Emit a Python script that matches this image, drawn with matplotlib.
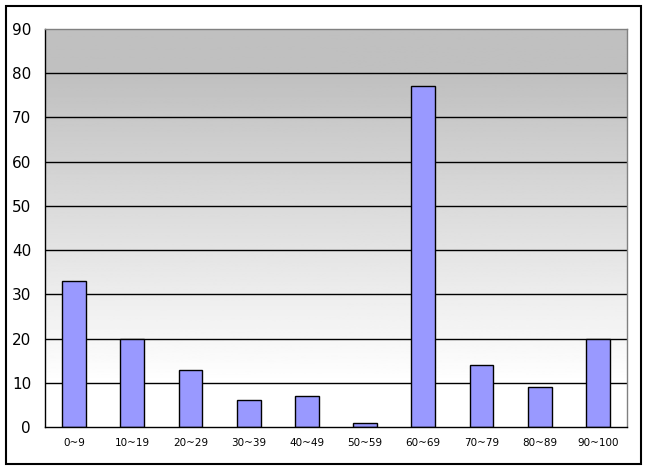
import matplotlib
matplotlib.use("Agg")
import matplotlib.pyplot as plt
import numpy as np
from matplotlib.patches import Rectangle

categories = ['0~9', '10~19', '20~29', '30~39', '40~49',
              '50~59', '60~69', '70~79', '80~89', '90~100']
counts = [33, 20, 13, 6, 7, 1, 77, 14, 9, 20]
y_ticks = [0, 10, 20, 30, 40, 50, 60, 70, 80, 90]

fig = plt.figure(figsize=(6.48, 4.70), dpi=100)
fig.patch.set_facecolor('white')
fig.patches.append(Rectangle((6 / 648, 6 / 470), 635 / 648, 458 / 470,
                             transform=fig.transFigure, fill=False,
                             edgecolor='black', linewidth=1.5))

ax = fig.add_axes([45 / 648, 43 / 470, 582 / 648, 398 / 470])
n = len(categories)
ax.set_xlim(-0.5, n - 0.5)
ax.set_ylim(0, 90)

# gray band on top, fading to white near the bottom
yy = np.linspace(90, 0, 360).reshape(-1, 1)
t = np.clip((yy - 10) / (80 - 10), 0, 1)
shade = 1.0 - t * (1.0 - 0.75)
ax.imshow(shade, extent=(-0.5, n - 0.5, 0, 90), aspect='auto',
          cmap='gray', vmin=0, vmax=1, origin='upper', zorder=0)

for y in y_ticks[1:-1]:
    ax.axhline(y, color='black', linewidth=1, zorder=1)

x = np.arange(n)
ax.bar(x, counts, width=0.41, color='#9999ff', edgecolor='black',
       linewidth=1, zorder=2)

ax.set_xticks(x)
ax.set_xticklabels(categories, fontsize=7.5)
ax.set_yticks(y_ticks)
ax.tick_params(axis='y', labelsize=11, length=0, pad=10)
ax.tick_params(axis='x', length=0, pad=8)

ax.spines['top'].set_color('#808080')
ax.spines['right'].set_color('#808080')
ax.spines['left'].set_color('black')
ax.spines['bottom'].set_color('black')
for s in ax.spines.values():
    s.set_linewidth(1)

fig.savefig('out.png', dpi=100)
